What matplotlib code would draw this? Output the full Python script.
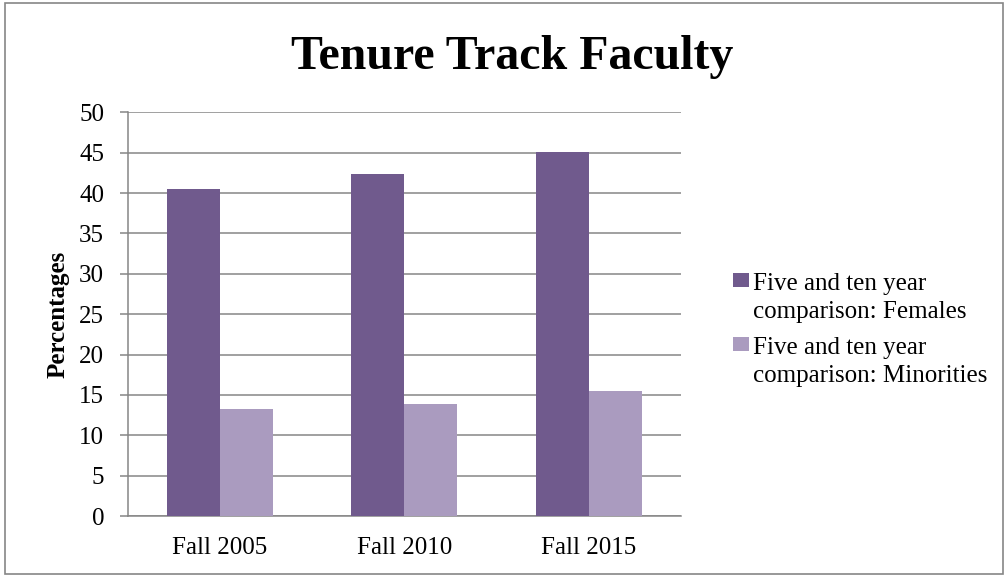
import numpy as np
import matplotlib.pyplot as plt
from matplotlib.patches import Rectangle

# Dados do gráfico
categorias = ["Fall 2005", "Fall 2010", "Fall 2015"]
femininas = [40.55, 42.4, 45.1]
minorias = [13.2, 13.85, 15.45]
rotulos = ["Five and ten year\ncomparison: Females",
           "Five and ten year\ncomparison: Minorities"]

cor_fem = "#705A8D"
cor_min = "#AA9BBF"
cinza = "#868686"

plt.rcParams["font.family"] = ["Liberation Serif", "DejaVu Serif"]

fig = plt.figure(figsize=(10.08, 5.77), dpi=100)
ax = fig.add_axes([0.1265, 0.1057, 0.5491, 0.6997])

x = np.arange(len(categorias))
larg = 0.287
ax.bar(x - larg / 2, femininas, width=larg, color=cor_fem, label=rotulos[0], zorder=3)
ax.bar(x + larg / 2, minorias, width=larg, color=cor_min, label=rotulos[1], zorder=3)

ax.set_xlim(-0.5, len(categorias) - 0.5)
ax.set_ylim(0, 50)
ax.set_yticks(range(0, 51, 5))
ax.set_xticks(x)
ax.set_xticklabels(categorias)
ax.tick_params(axis="y", length=5.8, width=1.1, color=cinza, pad=11, labelsize=18)
ax.tick_params(axis="x", length=0, pad=15, labelsize=18)

ax.grid(axis="y", color=cinza, linewidth=1.1, zorder=0)
for lado in ["top", "right"]:
    ax.spines[lado].set_visible(False)
for lado in ["left", "bottom"]:
    ax.spines[lado].set_color(cinza)
    ax.spines[lado].set_linewidth(1.1)

ax.set_ylabel("Percentages", fontsize=18, fontweight="bold", labelpad=7)
fig.suptitle("Tenure Track Faculty", fontsize=34.5, fontweight="bold", x=0.508, y=0.94)

leg = ax.legend(loc="upper left", bbox_to_anchor=(1.076, 0.627), frameon=False,
                fontsize=18, handlelength=0.64, handleheight=0.52,
                handletextpad=0.15, labelspacing=0.55, borderaxespad=0)
for t in leg.get_texts():
    t.set_linespacing(1.35)
# alinhar o quadrado com a primeira linha do texto
for coluna in leg._legend_handle_box.get_children():
    for entrada in coluna.get_children():
        entrada.align = "top"

# borda do gráfico
fig.patches.append(Rectangle((0.005, 0.006), 0.99, 0.988, transform=fig.transFigure,
                             fill=False, edgecolor=cinza, linewidth=1.2))

plt.savefig("out.png", dpi=100)
plt.close()
